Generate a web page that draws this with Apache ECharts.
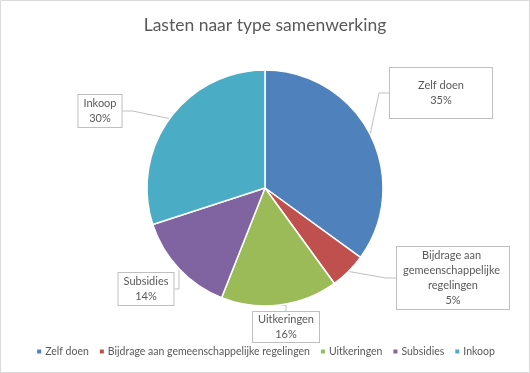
<!DOCTYPE html>
<html><head><meta charset="utf-8">
<script src="https://cdn.jsdelivr.net/npm/echarts@6/dist/echarts.min.js"></script>
<style>html,body{margin:0;padding:0;background:#fff}#c{width:530px;height:373px}</style>
</head><body><div id="c"></div>
<script>
const categories = ['Zelf doen', 'Bijdrage aan gemeenschappelijke regelingen', 'Uitkeringen', 'Subsidies', 'Inkoop'];
const values = [35, 5, 16, 14, 30];
const colors = ['#4F81BD', '#C0504D', '#9BBB59', '#8064A2', '#4BACC6'];

// label box placements (center x, top y, padding, content width)
const labelBoxes = [
  {x: 441, y: 68, pad: [10, 14], width: 74},
  {x: 453, y: 247, pad: [1, 4], width: 104},
  {x: 286, y: 312, pad: [0, 5], width: null},
  {x: 146, y: 273, pad: [1, 5], width: null},
  {x: 100, y: 95, pad: [1, 5], width: null}
];

const font = 'Lato, "Open Sans", sans-serif';
const chart = echarts.init(document.getElementById('c'));
const data = categories.map((n, i) => {
  const item = {name: n, value: values[i], itemStyle: {color: colors[i]},
    label: {padding: labelBoxes[i].pad}};
  if (labelBoxes[i].width) { item.label.width = labelBoxes[i].width; item.label.overflow = 'break'; }
  return item;
});
chart.setOption({
  animation: false,
  title: {text: 'Lasten naar type samenwerking', left: 'center', top: 11,
    textStyle: {fontFamily: font, fontSize: 17.5, fontWeight: 'normal', color: '#595959'}},
  graphic: [{type: 'rect', shape: {x: 0.5, y: 0.5, width: 529, height: 372},
    style: {fill: 'none', stroke: '#d9d9d9', lineWidth: 1}, silent: true}],
  legend: {bottom: 11, left: 'center', icon: 'rect', itemWidth: 6, itemHeight: 6, itemGap: 9,
    textStyle: {fontFamily: font, fontSize: 10.5, color: '#595959', padding: [0, 0, 0, -2]}},
  series: [{
    type: 'pie', center: [265, 188], radius: 118, startAngle: 90, clockwise: true,
    data: data,
    itemStyle: {borderColor: '#fff', borderWidth: 1.5},
    label: {show: true, position: 'outside', formatter: '{b}\n{d}%', align: 'center',
      fontFamily: font, fontSize: 11, lineHeight: 15, color: '#595959',
      backgroundColor: '#fff', borderColor: '#bfbfbf', borderWidth: 1},
    labelLine: {show: true, length: 10, length2: 10, lineStyle: {color: '#bfbfbf', width: 1}},
    labelLayout: function (p) {
      const b = labelBoxes[p.dataIndex];
      return {x: b.x, y: b.y, align: 'center', verticalAlign: 'top'};
    }
  }]
});
</script></body></html>
